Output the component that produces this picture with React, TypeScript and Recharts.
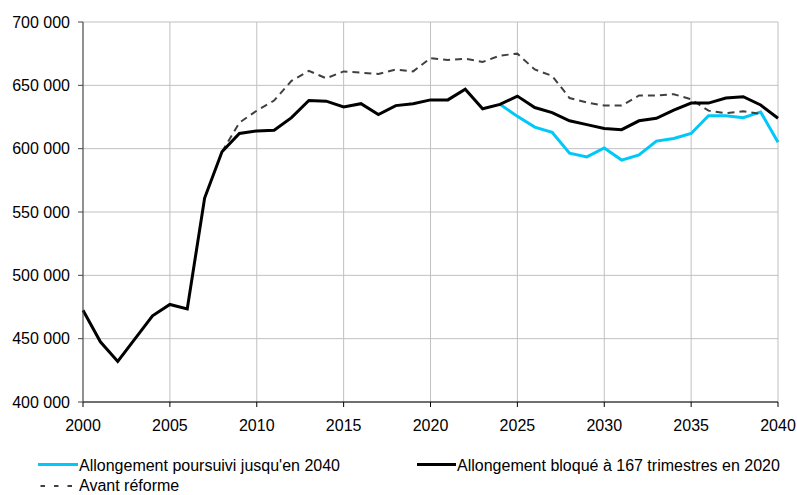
import { LineChart, Line, XAxis, YAxis, CartesianGrid } from 'recharts'

const years = [
  2000, 2001, 2002, 2003, 2004, 2005, 2006, 2007, 2008, 2009,
  2010, 2011, 2012, 2013, 2014, 2015, 2016, 2017, 2018, 2019,
  2020, 2021, 2022, 2023, 2024, 2025, 2026, 2027, 2028, 2029,
  2030, 2031, 2032, 2033, 2034, 2035, 2036, 2037, 2038, 2039, 2040,
]

// Allongement bloqué à 167 trimestres en 2020 (full range)
const bloque = [
  472500, 447500, 432000, 450000, 468000, 477000, 473500, 561000, 597500, 612000,
  614000, 614500, 624500, 638000, 637500, 633000, 635500, 627000, 634000, 635500,
  638500, 638500, 647000, 631500, 635000, 641500, 632500, 628500, 622000, 619000,
  616000, 615000, 622000, 624000, 630500, 636000, 636000, 640000, 641000, 634500, 624000,
]

// Allongement poursuivi jusqu'en 2040 (from 2024)
const poursuiviStart = 2024
const poursuivi = [
  635000, 625500, 617000, 613000, 596500, 593500, 600500, 591000, 595000, 606000,
  608000, 612000, 626000, 626000, 624500, 629000, 605000,
]

// Avant réforme (from 2008 to 2039)
const avantStart = 2008
const avant = [
  597500, 620500, 630000, 638000, 653500, 661500, 655500, 661000, 660000, 659000,
  662500, 661000, 671500, 670000, 671000, 668500, 673500, 675000, 662500, 657500,
  640000, 636500, 634000, 634000, 642000, 642000, 643000, 639000, 630000, 628000,
  629500, 627500,
]

const xTicks = [2000, 2005, 2010, 2015, 2020, 2025, 2030, 2035, 2040]
const yTicks = [400000, 450000, 500000, 550000, 600000, 650000, 700000]

const data = years.map((year, i) => ({
  year,
  bloque: bloque[i],
  poursuivi: year >= poursuiviStart ? poursuivi[year - poursuiviStart] ?? null : null,
  avant: year >= avantStart ? avant[year - avantStart] ?? null : null,
}))

const font = '"Liberation Sans", Arial, sans-serif'
const tickStyle = { fill: '#000', fontSize: 16, fontFamily: font }

const fmt = (v: number) => String(v).replace(/\B(?=(\d{3})+(?!\d))/g, ' ')

export default function App() {
  return (
    <div style={{ position: 'absolute', left: 0, top: 0, width: 797, height: 495, background: '#fff', overflow: 'hidden' }}>
      <LineChart width={797} height={495} data={data} margin={{ top: 22, right: 19, left: 0, bottom: 53 }}>
        <CartesianGrid stroke="#c0c0c0" strokeWidth={1} />
        <XAxis
          dataKey="year"
          type="number"
          domain={[2000, 2040]}
          ticks={xTicks}
          height={40}
          tick={tickStyle}
          tickSize={5}
          tickMargin={13}
          axisLine={{ stroke: '#000' }}
          tickLine={{ stroke: '#000' }}
        />
        <YAxis
          domain={[400000, 700000]}
          ticks={yTicks}
          width={83}
          tick={tickStyle}
          tickSize={5}
          tickMargin={8}
          tickFormatter={fmt}
          axisLine={{ stroke: '#444' }}
          tickLine={{ stroke: '#444' }}
        />
        <Line
          dataKey="poursuivi"
          stroke="#00c8f8"
          strokeWidth={3}
          dot={false}
          connectNulls={false}
          isAnimationActive={false}
        />
        <Line
          dataKey="avant"
          stroke="#404040"
          strokeWidth={2}
          strokeDasharray="7 5"
          dot={false}
          isAnimationActive={false}
        />
        <Line
          dataKey="bloque"
          stroke="#000"
          strokeWidth={3}
          dot={false}
          isAnimationActive={false}
        />
      </LineChart>
      <svg width={797} height={495} style={{ position: 'absolute', left: 0, top: 0, pointerEvents: 'none' }}>
        <g fontFamily={font} fontSize={16} fill="#000">
          <line x1={38} x2={78} y1={464.5} y2={464.5} stroke="#00c8f8" strokeWidth={3} />
          <text x={79} y={471}>Allongement poursuivi jusqu'en 2040</text>
          <line x1={417} x2={456} y1={464.5} y2={464.5} stroke="#000" strokeWidth={3} />
          <text x={457} y={471}>Allongement bloqué à 167 trimestres en 2020</text>
          <line x1={40.5} x2={72} y1={486} y2={486} stroke="#404040" strokeWidth={2} strokeDasharray="4.5 9" />
          <text x={79} y={491}>Avant réforme</text>
        </g>
      </svg>
    </div>
  )
}
